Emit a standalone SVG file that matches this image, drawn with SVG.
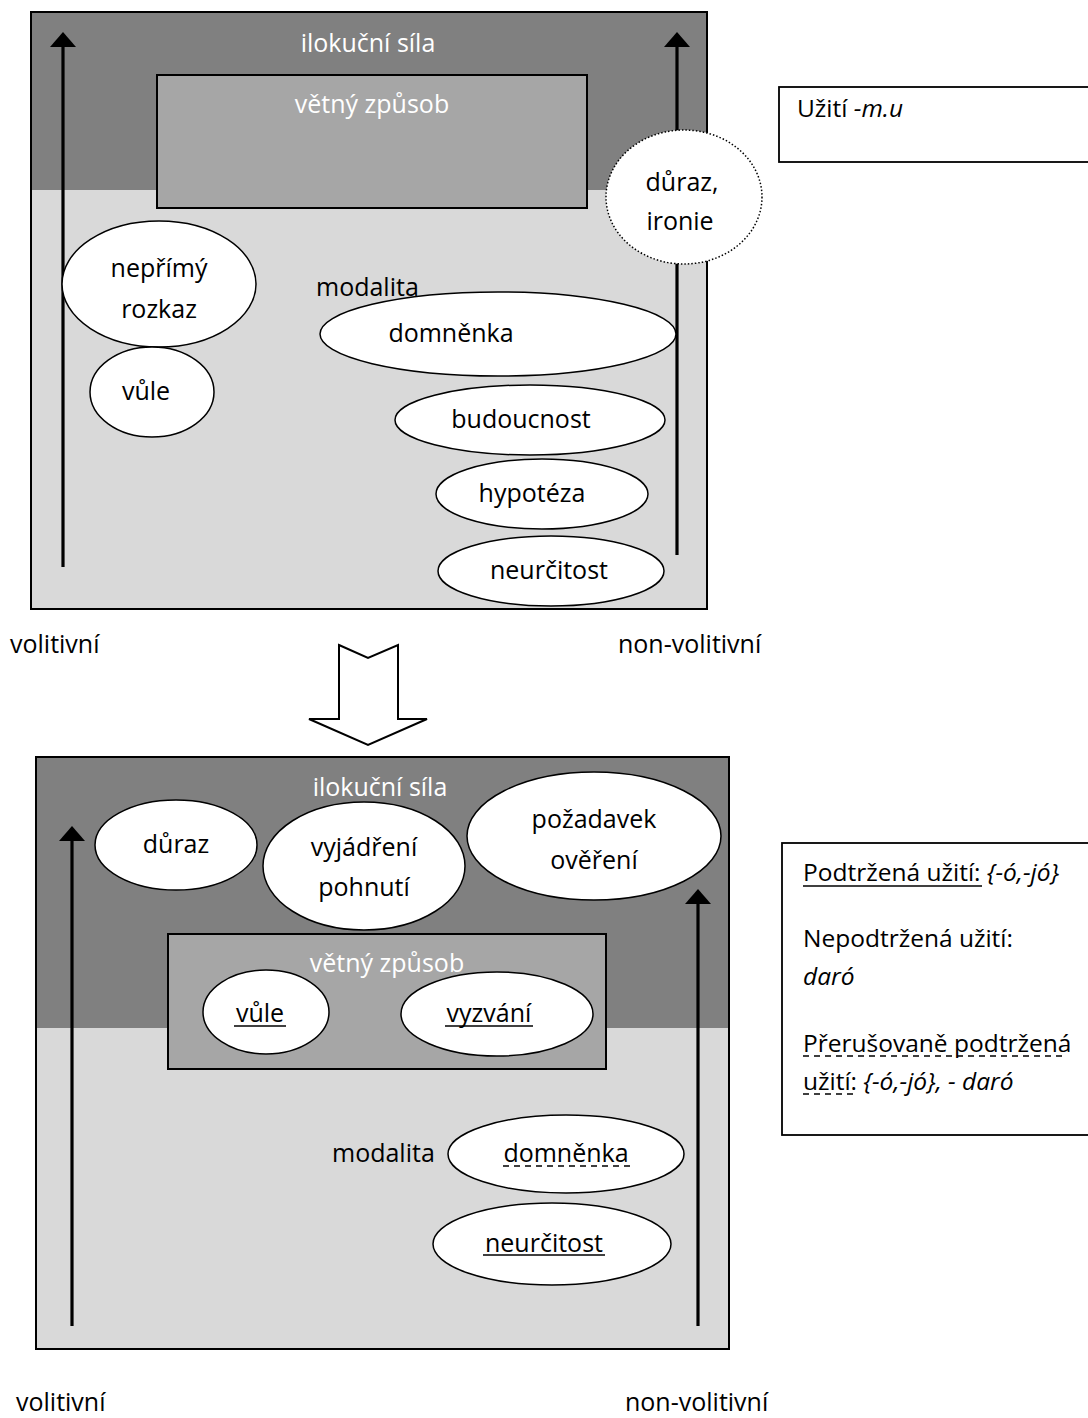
<svg xmlns="http://www.w3.org/2000/svg" width="1088" height="1418" viewBox="0 0 1088 1418">
<style>
text{font-family:"Open Sans","Noto Sans","DejaVu Sans",sans-serif;font-size:25px;fill:#000}
.c{text-anchor:middle}
.w{fill:#fff}
.it{font-style:italic}
.frame{fill:#d9d9d9;stroke:#000;stroke-width:2}
.band{fill:#808080}
.inner{fill:#a6a6a6;stroke:#000;stroke-width:2}
.el{fill:#fff;stroke:#000;stroke-width:1.5}
.dot{fill:#fff;stroke:#000;stroke-width:1.5;stroke-dasharray:1.5 2}
.ax{stroke:#000;stroke-width:3.2;fill:none}
.ah{fill:#000}
.ul{stroke:#000;stroke-width:1.6}
.dl{stroke:#000;stroke-width:1.6;stroke-dasharray:6 5}
.box{fill:#fff;stroke:#000;stroke-width:1.8}
.lg{font-size:24.5px}
</style>

<!-- TOP DIAGRAM -->
<g id="top-frame">
<rect class="frame" x="31" y="12" width="676" height="597"/>
<rect class="band" x="32" y="13" width="674" height="177"/>
<text class="c w" x="368" y="52">ilokuční síla</text>
</g>
<g id="top-vetny">
<rect class="inner" x="157" y="75" width="430" height="133"/>
<text class="c w" x="372" y="113">větný způsob</text>
</g>

<g id="connectors-top">
<line class="ax" x1="63" y1="567" x2="63" y2="46"/>
<polygon class="ah" points="50,47 63,32 76,47"/>
<line class="ax" x1="677" y1="555" x2="677" y2="46"/>
<polygon class="ah" points="664,47 677,32 690,47"/>
</g>

<g id="top-duraz-ironie">
<ellipse class="dot" cx="684" cy="197" rx="78" ry="67"/>
<text class="c" x="682" y="191">důraz,</text>
<text class="c" x="680" y="230">ironie</text>
</g>
<g id="top-neprimy">
<ellipse class="el" cx="159" cy="284" rx="97" ry="63"/>
<text class="c" x="159" y="277">nepřímý</text>
<text class="c" x="159" y="318">rozkaz</text>
</g>
<g id="top-vule">
<ellipse class="el" cx="152" cy="392" rx="62" ry="45"/>
<text class="c" x="146" y="400">vůle</text>
</g>
<g id="top-modalita">
<text x="316" y="296">modalita</text>
</g>
<g id="top-domnenka">
<ellipse class="el" cx="498" cy="334" rx="178" ry="42"/>
<text class="c" x="451" y="342">domněnka</text>
</g>
<g id="top-budoucnost">
<ellipse class="el" cx="530" cy="420" rx="135" ry="35"/>
<text class="c" x="521" y="428">budoucnost</text>
</g>
<g id="top-hypoteza">
<ellipse class="el" cx="542" cy="494" rx="106" ry="35"/>
<text class="c" x="532" y="502">hypotéza</text>
</g>
<g id="top-neurcitost">
<ellipse class="el" cx="551" cy="571" rx="113" ry="35"/>
<text class="c" x="549" y="579">neurčitost</text>
</g>

<g id="top-labels">
<text x="10" y="653">volitivní</text>
<text x="618" y="653">non-volitivní</text>
</g>

<g id="legend-top">
<rect class="box" x="779" y="87" width="320" height="75"/>
<text class="lg" x="797" y="117">Užití <tspan class="it">-m.u</tspan></text>
</g>

<g id="block-arrow">
<polygon points="339,645 368,658 398,645 398,719 427,719 368,745 309,719 339,719" fill="#fff" stroke="#000" stroke-width="2" stroke-linejoin="miter"/>
</g>

<!-- BOTTOM DIAGRAM -->
<g id="bottom-frame">
<rect class="frame" x="36" y="757" width="693" height="592"/>
<rect class="band" x="37" y="758" width="691" height="270"/>
<text class="c w" x="380" y="796">ilokuční síla</text>
</g>
<g id="bottom-vetny">
<rect class="inner" x="168" y="934" width="438" height="135"/>
<text class="c w" x="387" y="972">větný způsob</text>
</g>

<g id="connectors-bottom">
<line class="ax" x1="72" y1="1326" x2="72" y2="840"/>
<polygon class="ah" points="59,841 72,826 85,841"/>
<line class="ax" x1="698" y1="1326" x2="698" y2="903"/>
<polygon class="ah" points="685,904 698,889 711,904"/>
</g>

<g id="bottom-duraz">
<ellipse class="el" cx="176" cy="845" rx="81" ry="45"/>
<text class="c" x="176" y="853">důraz</text>
</g>
<g id="bottom-vyjadreni">
<ellipse class="el" cx="364" cy="866" rx="101" ry="64"/>
<text class="c" x="364" y="856">vyjádření</text>
<text class="c" x="364" y="896">pohnutí</text>
</g>
<g id="bottom-pozadavek">
<ellipse class="el" cx="594" cy="836" rx="127" ry="64"/>
<text class="c" x="594" y="828">požadavek</text>
<text class="c" x="594" y="869">ověření</text>
</g>
<g id="bottom-vule">
<ellipse class="el" cx="266" cy="1012" rx="63" ry="42"/>
<text class="c" x="260" y="1022">vůle</text>
<line class="ul" x1="234" y1="1026" x2="286" y2="1026"/>
</g>
<g id="bottom-vyzvani">
<ellipse class="el" cx="497" cy="1014" rx="96" ry="42"/>
<text class="c" x="489" y="1022">vyzvání</text>
<line class="ul" x1="445" y1="1026" x2="533" y2="1026"/>
</g>
<g id="bottom-modalita">
<text x="332" y="1162">modalita</text>
</g>
<g id="bottom-domnenka">
<ellipse class="el" cx="566" cy="1154" rx="118" ry="39"/>
<text class="c" x="566" y="1162">domněnka</text>
<line class="dl" x1="503" y1="1166" x2="630" y2="1166"/>
</g>
<g id="bottom-neurcitost">
<ellipse class="el" cx="552" cy="1244" rx="119" ry="41"/>
<text class="c" x="544" y="1252">neurčitost</text>
<line class="ul" x1="483" y1="1255" x2="605" y2="1255"/>
</g>

<g id="bottom-labels">
<text x="16" y="1411">volitivní</text>
<text x="625" y="1411">non-volitivní</text>
</g>

<g id="legend-bottom">
<rect class="box" x="782" y="843" width="320" height="292"/>
<text class="lg" x="803" y="881">Podtržená užití: <tspan class="it">{-ó,-jó}</tspan></text>
<line class="ul" x1="803" y1="886" x2="982" y2="886"/>
<text class="lg" x="803" y="947">Nepodtržená užití:</text>
<text class="lg it" x="803" y="985">daró</text>
<text class="lg" x="803" y="1052">Přerušovaně podtržená</text>
<line class="dl" x1="803" y1="1056" x2="1067" y2="1056"/>
<text class="lg" x="803" y="1090">užití: <tspan class="it">{-ó,-jó}, - daró</tspan></text>
<line class="dl" x1="803" y1="1094" x2="858" y2="1094"/>
</g>
</svg>
